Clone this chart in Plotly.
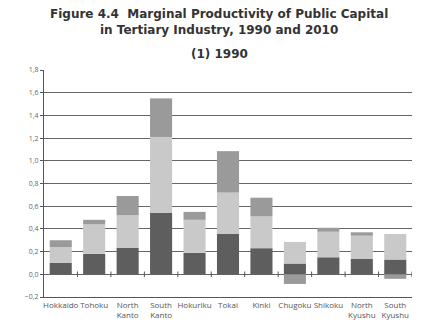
import plotly.graph_objects as go

regions = ["Hokkaido", "Tohoku", "North<br>Kanto", "South<br>Kanto", "Hokuriku", "Tokai",
           "Kinki", "Chugoku", "Shikoku", "North<br>Kyushu", "South<br>Kyushu"]
dark_vals = [0.10, 0.18, 0.235, 0.54, 0.19, 0.355, 0.23, 0.095, 0.15, 0.135, 0.13]
light_vals = [0.14, 0.26, 0.285, 0.67, 0.29, 0.365, 0.28, 0.19, 0.225, 0.205, 0.225]
medium_vals = [0.06, 0.04, 0.17, 0.34, 0.07, 0.365, 0.165, -0.085, 0.035, 0.03, -0.04]
y_ticks = [-0.2, 0.0, 0.2, 0.4, 0.6, 0.8, 1.0, 1.2, 1.4, 1.6, 1.8]
y_labels = ["\u22120,2", "0,0", "0,2", "0,4", "0,6", "0,8", "1,0", "1,2", "1,4", "1,6", "1,8"]

W, H = 430, 327
L, R, T, B = 44, 18, 70, 30
pw, ph = W - L - R, H - T - B

x = list(range(len(regions)))
fig = go.Figure()
for vals, col in [(dark_vals, "#5e5e5e"), (light_vals, "#c9c9c9"), (medium_vals, "#9a9a9a")]:
    fig.add_trace(go.Bar(x=x, y=vals, marker=dict(color=col, line=dict(width=0)),
                         width=0.66, showlegend=False))

# small boundary ticks on the zero line
fig.add_trace(go.Scatter(x=[i + 0.5 for i in x], y=[0] * len(x), mode="markers",
                         marker=dict(symbol="line-ns-open", size=4, color="#555", line=dict(width=1)),
                         showlegend=False, hoverinfo="skip"))

fig.update_layout(
    barmode="relative",
    width=W, height=H,
    margin=dict(l=L, r=R, t=T, b=B),
    paper_bgcolor="white", plot_bgcolor="white",
    font=dict(family="Open Sans, sans-serif", color="#333"),
    xaxis=dict(tickmode="array", tickvals=x, ticktext=regions, range=[-0.5, 10.5],
               showline=True, linecolor="#555", linewidth=1, showgrid=False, zeroline=False,
               ticks="", tickangle=0,
               automargin=False, tickfont=dict(size=8, color="#555")),
    yaxis=dict(range=[-0.2, 1.8], tickmode="array", tickvals=y_ticks, ticktext=y_labels,
               showgrid=True, gridcolor="#666", gridwidth=1, zeroline=True, zerolinecolor="#666",
               zerolinewidth=1, showline=True, linecolor="#555", linewidth=1,
               ticks="outside", ticklen=3, tickcolor="#555", automargin=False,
               tickfont=dict(size=7, color="#666")),
)
for txt, ypix, sz in [("<b>Figure 4.4  Marginal Productivity of Public Capital</b>", 14, 12),
                      ("<b>in Tertiary Industry, 1990 and 2010</b>", 30, 12),
                      ("<b>(1) 1990</b>", 54, 12)]:
    fig.add_annotation(text=txt, x=(219 - L) / pw, y=(H - B - ypix) / ph, xref="paper", yref="paper",
                       xanchor="center", yanchor="middle", showarrow=False,
                       font=dict(size=sz, color="#333", family="DejaVu Sans"))
fig.write_html("out.html")
